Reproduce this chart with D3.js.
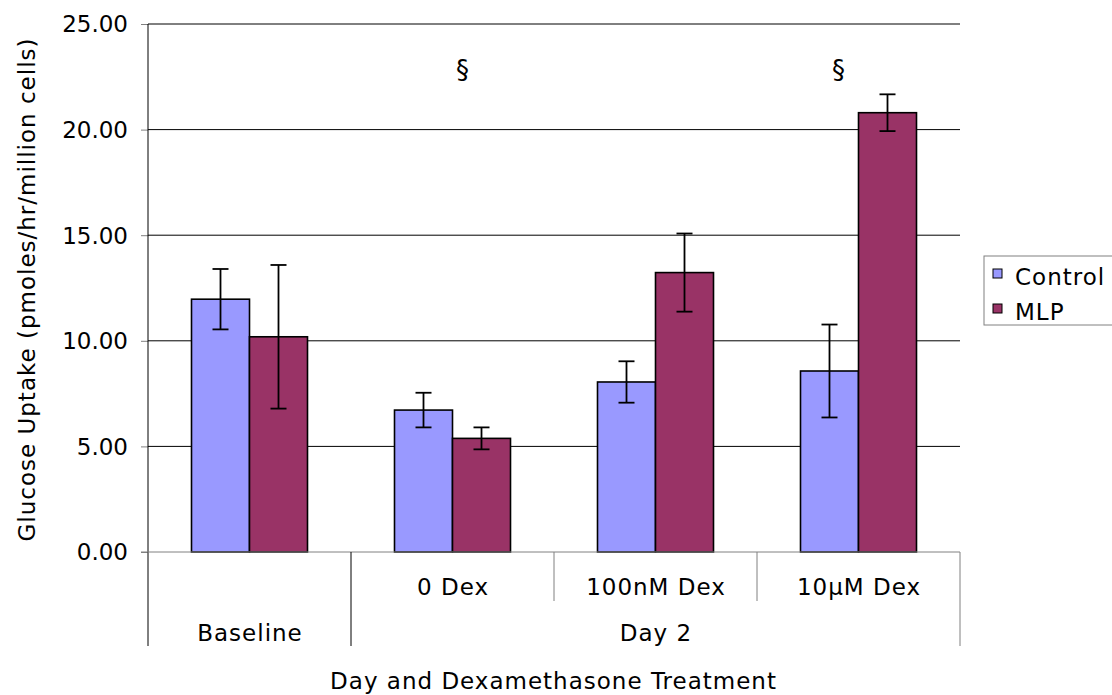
<!DOCTYPE html>
<html>
<head>
<meta charset="utf-8">
<script src="https://cdn.jsdelivr.net/npm/d3@7/dist/d3.min.js"></script>
<style>
  html, body { margin: 0; padding: 0; background: #fff; }
  svg { display: block; font-family: "DejaVu Sans", Verdana, sans-serif; }
</style>
</head>
<body>
<svg id="chart" width="1112" height="695"></svg>
<script>
// Treatment categories (inner level) and day groups (outer level)
const categories = ["Baseline", "0 Dex", "100nM Dex", "10\u00b5M Dex"];
const subLabels = ["", "0 Dex", "100nM Dex", "10\u00b5M Dex"];
const dayGroups = [
  { label: "Baseline", from: 0, to: 1 },
  { label: "Day 2", from: 1, to: 4 }
];
const seriesNames = ["Control", "MLP"];
const seriesColors = ["#9999FF", "#993366"];

// Mean glucose uptake and error (pmoles/hr/million cells)
const controlValues = [11.97, 6.72, 8.05, 8.57];
const controlErrors = [1.43, 0.82, 0.98, 2.20];
const mlpValues = [10.19, 5.38, 13.23, 20.80];
const mlpErrors = [3.40, 0.52, 1.85, 0.87];

// Significance markers
const markerCategories = ["0 Dex", "10\u00b5M Dex"];
const markerText = "\u00a7";

const yTicks = [0, 5, 10, 15, 20, 25];

const svg = d3.select("#chart");
const m = { left: 148, right: 960, top: 24, bottom: 552 };
const FONT = 23;       // label font size
const LS = 1.0;        // letter spacing for labels

const x = d3.scaleBand().domain(categories).range([m.left, m.right]).padding(0);
const y = d3.scaleLinear().domain([0, 25]).range([m.bottom, m.top]);

// Gridlines
svg.append("g")
  .selectAll("line")
  .data(yTicks.filter(d => d > 0))
  .join("line")
  .attr("x1", m.left).attr("x2", m.right)
  .attr("y1", d => y(d)).attr("y2", d => y(d))
  .attr("stroke", "#000").attr("stroke-width", 1);

// Y axis
const yAxis = svg.append("g")
  .attr("transform", `translate(${m.left},0)`)
  .call(d3.axisLeft(y).tickValues(yTicks).tickFormat(d3.format(".2f")).tickSize(7).tickPadding(13));
yAxis.select(".domain").remove();
yAxis.selectAll(".tick line").attr("stroke", "#808080");
yAxis.selectAll(".tick text")
  .attr("font-size", FONT).attr("fill", "#000")
  .attr("font-family", "'DejaVu Sans', Verdana, sans-serif")
  .attr("dy", "0.34em");
svg.append("line")
  .attr("x1", m.left).attr("x2", m.left)
  .attr("y1", m.top).attr("y2", 646)
  .attr("stroke", "#000").attr("stroke-width", 1);

// Bars
const series = [
  { name: "Control", values: controlValues, errors: controlErrors, color: seriesColors[0] },
  { name: "MLP", values: mlpValues, errors: mlpErrors, color: seriesColors[1] }
];
const barW = 58;
const bars = [];
series.forEach((s, si) => {
  categories.forEach((c, ci) => {
    bars.push({ cat: c, si, v: s.values[ci], e: s.errors[ci], color: s.color });
  });
});
const barX = d => x(d.cat) + x.bandwidth() / 2 + (d.si === 0 ? -barW : 0);

svg.append("g").selectAll("rect")
  .data(bars).join("rect")
  .attr("x", barX)
  .attr("y", d => y(d.v))
  .attr("width", barW)
  .attr("height", d => y(0) - y(d.v))
  .attr("fill", d => d.color)
  .attr("stroke", "#000").attr("stroke-width", 1.6);

// Error bars
const eb = svg.append("g").attr("stroke", "#000").attr("stroke-width", 1.8);
bars.forEach(d => {
  const cx = barX(d) + barW / 2;
  eb.append("line").attr("x1", cx).attr("x2", cx).attr("y1", y(d.v + d.e)).attr("y2", y(d.v - d.e));
  eb.append("line").attr("x1", cx - 8).attr("x2", cx + 8).attr("y1", y(d.v + d.e)).attr("y2", y(d.v + d.e));
  eb.append("line").attr("x1", cx - 8).attr("x2", cx + 8).attr("y1", y(d.v - d.e)).attr("y2", y(d.v - d.e));
});

// Category axis
const axisColor = "#808080";
svg.append("line")
  .attr("x1", m.left - 7).attr("x2", m.right)
  .attr("y1", m.bottom).attr("y2", m.bottom)
  .attr("stroke", axisColor);
// Separators between inner categories
categories.forEach((c, i) => {
  if (i === 0) return;
  const full = dayGroups.some(g => g.from === i);
  svg.append("line")
    .attr("x1", x(c)).attr("x2", x(c))
    .attr("y1", m.bottom).attr("y2", full ? 646 : 601)
    .attr("stroke", full ? "#000" : axisColor);
});
svg.append("line")
  .attr("x1", m.right).attr("x2", m.right)
  .attr("y1", m.bottom).attr("y2", 646)
  .attr("stroke", axisColor);

// Centered label helper (letter-spacing adds a trailing gap, so shift by half of it)
function label(g, xPos, yPos, text, size) {
  return g.append("text")
    .attr("x", xPos + LS / 2)
    .attr("y", yPos)
    .attr("text-anchor", "middle")
    .attr("font-size", size || FONT)
    .attr("letter-spacing", LS)
    .text(text);
}

const catG = svg.append("g");
categories.forEach((c, i) => {
  if (subLabels[i]) label(catG, x(c) + x.bandwidth() / 2, 595, subLabels[i]);
});
dayGroups.forEach(d => {
  const x0 = x(categories[d.from]);
  const x1 = d.to < categories.length ? x(categories[d.to]) : m.right;
  label(catG, (x0 + x1) / 2, 641, d.label);
});

// Significance markers
svg.append("g").selectAll("text")
  .data(markerCategories).join("text")
  .attr("x", (d, i) => x(d) + x.bandwidth() / 2 + (i === 0 ? 10 : -20))
  .attr("y", y(22.4))
  .attr("text-anchor", "middle")
  .attr("font-size", 26)
  .text(markerText);

// Axis titles
label(svg, (m.left + m.right) / 2 - 1, 689, "Day and Dexamethasone Treatment");

svg.append("text")
  .attr("transform", `translate(35,${(m.top + m.bottom) / 2 + 2 - LS / 2}) rotate(-90)`)
  .attr("text-anchor", "middle")
  .attr("font-size", FONT)
  .attr("letter-spacing", LS)
  .text("Glucose Uptake (pmoles/hr/million cells)");

// Legend
const lg = svg.append("g");
lg.append("rect")
  .attr("x", 984).attr("y", 256).attr("width", 140).attr("height", 69)
  .attr("fill", "#fff").attr("stroke", "#808080");
series.forEach((s, i) => {
  const ly = 285 + i * 35;
  lg.append("rect")
    .attr("x", 993).attr("y", ly - 16).attr("width", 9).attr("height", 9)
    .attr("fill", s.color).attr("stroke", "#000").attr("stroke-width", 1);
  lg.append("text")
    .attr("x", 1015).attr("y", ly)
    .attr("font-size", FONT)
    .attr("letter-spacing", LS)
    .text(s.name);
});
</script>
</body>
</html>
